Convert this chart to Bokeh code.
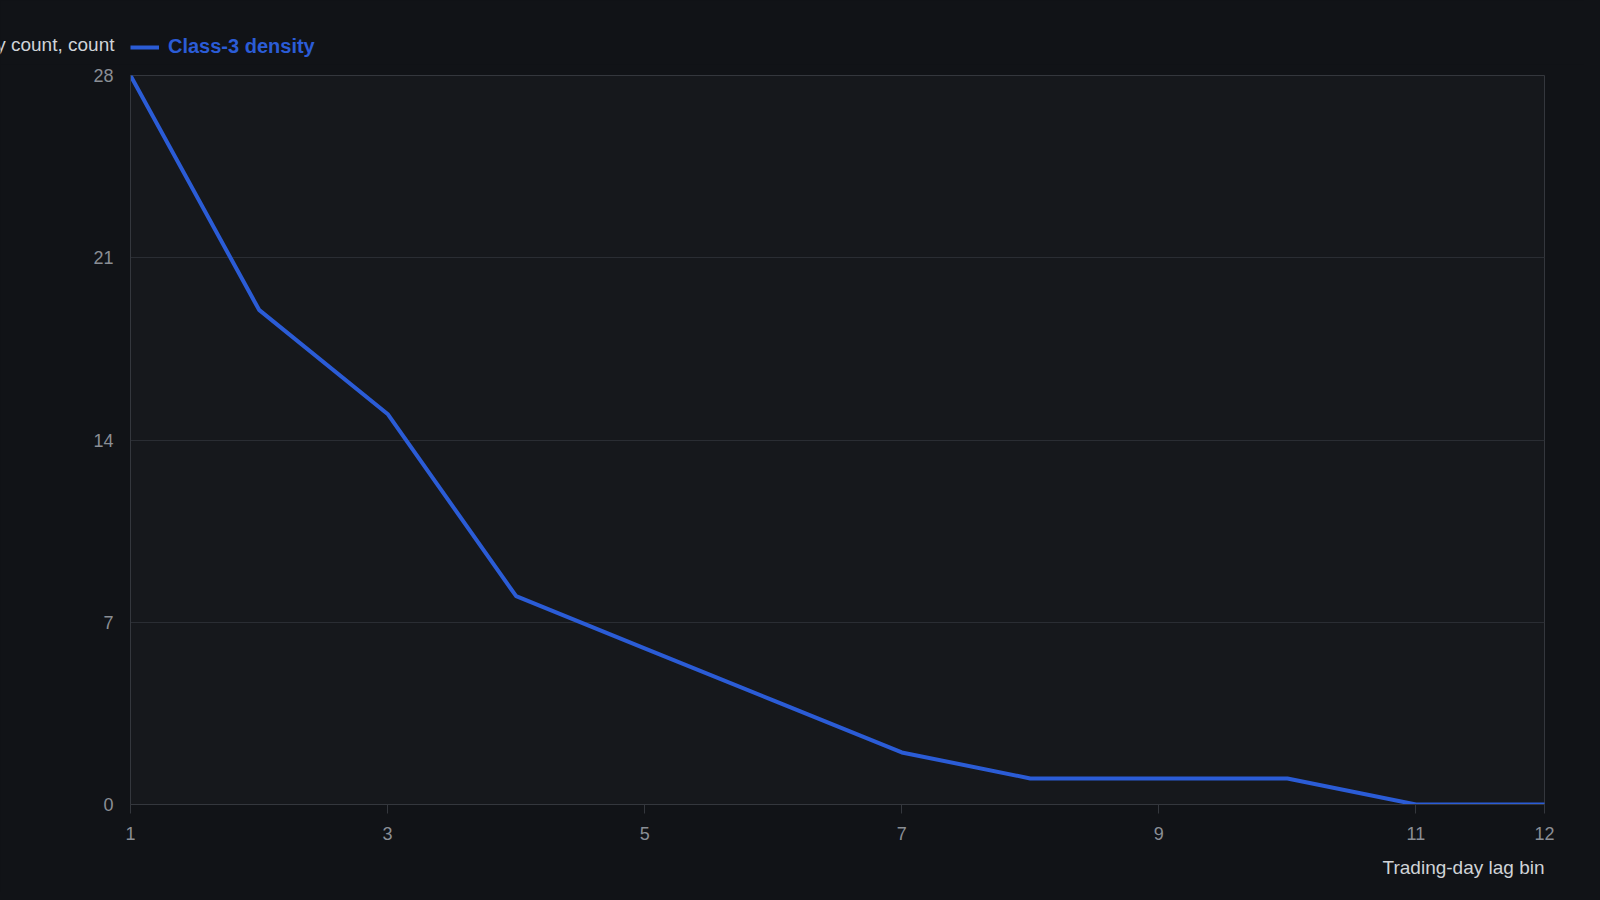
from bokeh.plotting import figure
from bokeh.layouts import column
from bokeh.models import Range1d, FixedTicker, Label, Legend, LegendItem, Title
from bokeh.embed import file_html
from bokeh.resources import INLINE

# ---- data ----
lag_bins = [1, 2, 3, 4, 5, 6, 7, 8, 9, 10, 11, 12]
class3_density = [28, 19, 15, 8, 6, 4, 2, 1, 1, 1, 0, 0]
x_ticks = [1, 3, 5, 7, 9, 11, 12]
y_ticks = [0, 7, 14, 21, 28]
series_name = "Class-3 density"
x_title = "Trading-day lag bin"
y_title = "Frequency count, count"

W = 1584
HEAD_H = 64
TOP, BOTTOM, LEFT, RIGHT = 11, 88, 130, 40
MAIN_H = 804 - HEAD_H + BOTTOM   # frame bottom at 804 px

BG = "#111317"
PLOT_BG = "#16181c"
GRID = "#2a2d33"
AXIS = "#34373d"
TICK_TXT = "#8a8e95"
LABEL_TXT = "#d0d3d8"
BLUE = "#2b5cd6"
FONT = "Liberation Sans"

# ---- header strip: y-axis name + legend (frame covers the whole strip) ----
head = figure(width=W, height=HEAD_H, output_backend="svg", toolbar_location=None,
              x_range=Range1d(0, W), y_range=Range1d(HEAD_H, 0),
              x_axis_location=None, y_axis_location=None,
              min_border=0, frame_align=False)
head.grid.grid_line_color = None
head.outline_line_color = None
head.background_fill_color = BG
head.border_fill_color = BG
head.add_layout(Label(x=114, y=44, text=y_title, text_align="right",
                      text_baseline="middle", text_color=LABEL_TXT,
                      text_font=FONT, text_font_size="19px"))
key = head.line(x=[float("nan")], y=[float("nan")], line_color=BLUE, line_width=4)
legend = Legend(items=[LegendItem(label=series_name, renderers=[key])],
                location=(130, 6), orientation="horizontal",
                margin=0, padding=0, spacing=0,
                glyph_width=29, glyph_height=20, label_height=20,
                label_standoff=9,
                border_line_color=None, background_fill_alpha=0,
                label_text_color=BLUE, label_text_font=FONT,
                label_text_font_style="bold", label_text_font_size="20px")
head.add_layout(legend)

# ---- main chart ----
p = figure(width=W, height=MAIN_H, output_backend="svg", toolbar_location=None,
           x_range=Range1d(1, 12), y_range=Range1d(0, 28),
           min_border_top=TOP, min_border_bottom=BOTTOM,
           min_border_left=LEFT, min_border_right=RIGHT)
p.background_fill_color = PLOT_BG
p.border_fill_color = BG
p.outline_line_color = AXIS
p.outline_line_width = 1

p.line(lag_bins, class3_density, line_color=BLUE, line_width=4,
       line_join="round", line_cap="round")

p.xgrid.grid_line_color = None
p.ygrid.grid_line_color = GRID
p.ygrid.grid_line_width = 1

p.xaxis.ticker = FixedTicker(ticks=x_ticks)
p.yaxis.ticker = FixedTicker(ticks=y_ticks)
for ax in (p.xaxis[0], p.yaxis[0]):
    ax.axis_line_color = AXIS
    ax.minor_tick_line_color = None
    ax.major_label_text_color = TICK_TXT
    ax.major_label_text_font = FONT
    ax.major_label_text_font_size = "18px"
p.xaxis.major_tick_line_color = AXIS
p.xaxis.major_tick_out = 9
p.xaxis.major_tick_in = 0
p.xaxis.major_label_standoff = 13
p.yaxis.major_tick_line_color = None
p.yaxis.major_tick_out = 0
p.yaxis.major_tick_in = 0
p.yaxis.major_label_standoff = 17

p.add_layout(Title(text=x_title, align="right", text_color=LABEL_TXT,
                   text_font=FONT, text_font_size="19px",
                   text_font_style="normal", standoff=25), "below")

layout = column(head, p, spacing=0, background=BG)

html = file_html(layout, INLINE)
html = html.replace("</head>",
                    "<style>html, body { background-color: #111317; }</style></head>", 1)
open("out.html", "w").write(html)
